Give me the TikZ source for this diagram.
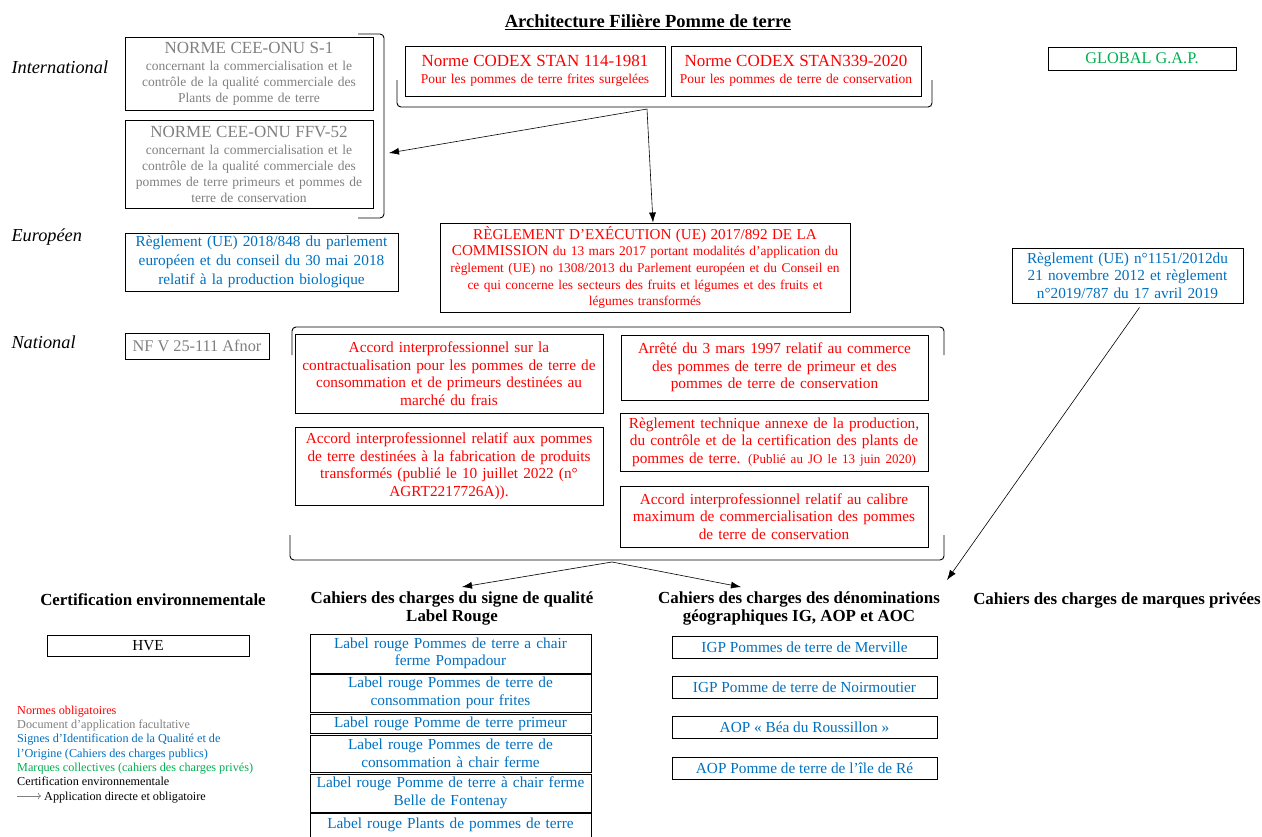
\documentclass[tikz,border=0pt]{standalone}
\usepackage{fontspec}
\setmainfont{Liberation Serif}
\usepackage[dvipsnames]{xcolor}
\usepackage{tikz}
\usetikzlibrary{arrows.meta}

% couleurs de la legende
\definecolor{normred}{RGB}{255,0,0}
\definecolor{docgray}{RGB}{128,128,128}
\definecolor{siqoblue}{RGB}{0,112,192}
\definecolor{marqgreen}{RGB}{0,176,80}

% tailles de police
\newcommand{\policegrand}{\fontsize{17}{19}\selectfont}
\newcommand{\policepetit}{\fontsize{13.5}{16}\selectfont}
\hyphenpenalty=10000

\tikzset{
  box/.style={draw=black, line width=0.9pt, inner sep=0pt, align=center, font=\fontsize{15.3}{17.5}\selectfont},
  smallbox/.style={box, font=\policepetit},
  header/.style={draw=none, align=center, font=\bfseries\fontsize{16.9}{18}\selectfont},
  level/.style={draw=none, anchor=west, font=\itshape\fontsize{18.3}{20}\selectfont},
  arrow/.style={-{Latex[length=10pt,width=7pt]}, line width=0.6pt},
  bracket/.style={draw=black, line width=0.9pt, rounded corners=4pt},
}

\begin{document}
\begin{tikzpicture}[x=1pt, y=-1pt]
% Page: 1262 x 836, y goes down
\clip (0,0) rectangle (1262,836);
\fill[white] (0,0) rectangle (1262,836);

% Title and levels
\node[draw=none, font=\bfseries\fontsize{18.5}{20}\selectfont] (titre) at (648,22) {\underline{Architecture Filière Pomme de terre}};
\node[level] (intl) at (8,67) {International};
\node[level] (euro) at (8,237) {Européen};
\node[level] (nat) at (8,342) {National};

% International level
% "smallbox" = text in a smaller size, first line bigger
\node[smallbox, text=docgray, minimum width=248, minimum height=73, text width=246] (cees) at (249,73.5)
  {{\policegrand NORME CEE-ONU S-1}\\[1pt] concernant la commercialisation et le\\ contrôle de la qualité commerciale des\\ Plants de pomme de terre};
\node[smallbox, text=docgray, minimum width=248, minimum height=88, text width=246] (ceeffv) at (249,164)
  {{\policegrand NORME CEE-ONU FFV-52}\\[1pt] concernant la commercialisation et le\\ contrôle de la qualité commerciale des\\ pommes de terre primeurs et pommes de\\ terre de conservation};
\node[smallbox, text=normred, minimum width=260, minimum height=50, text width=258] (codexa) at (535,71)
  {{\policegrand Norme CODEX STAN 114-1981}\\[1pt] Pour les pommes de terre frites surgelées};
\node[smallbox, text=normred, minimum width=250, minimum height=50, text width=248] (codexb) at (796,71)
  {{\policegrand Norme CODEX STAN339-2020}\\[1pt] Pour les pommes de terre de conservation};
\node[box, text=marqgreen, minimum width=188, minimum height=23, font=\fontsize{16.3}{18}\selectfont] (globalgap) at (1142,58.5) {GLOBAL G.A.P.};

% brackets round the CEE and CODEX boxes
\draw[bracket] (358,34) -- (384,34) -- (384,218) -- (358,218);
\coordinate (ceetip) at (389,153);
\draw[bracket] (397,80) -- (397,107) -- (932,107) -- (932,80);
\coordinate (codextip) at (647,109);

% European level
\node[box, text=siqoblue, minimum width=273, minimum height=58, text width=271, font=\fontsize{15.3}{19}\selectfont] (bio) at (261.5,262)
  {Règlement (UE) 2018/848 du parlement\\ européen et du conseil du 30 mai 2018\\ relatif à la production biologique};
\node[box, text=normred, minimum width=410, minimum height=89, text width=408, font=\fontsize{13.4}{16.7}\selectfont] (exec) at (645,267.5)
  {{\fontsize{15.1}{16.7}\selectfont RÈGLEMENT D'EXÉCUTION (UE) 2017/892 DE LA}\\ {\fontsize{15.1}{16.7}\selectfont COMMISSION} du 13 mars 2017 portant modalités d'application du\\ règlement (UE) no 1308/2013 du Parlement européen et du Conseil en\\ ce qui concerne les secteurs des fruits et légumes et des fruits et\\ légumes transformés};
\node[box, text=siqoblue, minimum width=231, minimum height=55, text width=229] (reg2012) at (1127.5,275.5)
  {Règlement (UE) n°1151/2012du\\ 21 novembre 2012 et règlement\\ n°2019/787 du 17 avril 2019};

% National level
\node[box, text=docgray, minimum width=144, minimum height=26, font=\fontsize{16.3}{18}\selectfont] (afnor) at (197,346) {NF V 25-111 Afnor};
\node[box, text=normred, minimum width=308, minimum height=79, text width=306] (accfrais) at (449,373.5)
  {Accord interprofessionnel sur la\\ contractualisation pour les pommes de terre de\\ consommation et de primeurs destinées au\\ marché du frais};
\node[box, text=normred, minimum width=307, minimum height=65, text width=305] (arrete) at (774.5,367.5)
  {Arrêté du 3 mars 1997 relatif au commerce\\ des pommes de terre de primeur et des\\ pommes de terre de conservation};
\node[box, text=normred, minimum width=308, minimum height=78, text width=306] (acctransf) at (449,466)
  {Accord interprofessionnel relatif aux pommes\\ de terre destinées à la fabrication de produits\\ transformés (publié le 10 juillet 2022 (n°\\ AGRT2217726A)).};
\node[box, text=normred, minimum width=308, minimum height=58, text width=306] (regtech) at (774,442)
  {Règlement technique annexe de la production,\\ du contrôle et de la certification des plants de\\ pommes de terre. {\fontsize{13}{17.5}\selectfont(Publié au JO le 13 juin 2020)}};
\node[box, text=normred, minimum width=308, minimum height=61, text width=306] (calibre) at (774,516.5)
  {Accord interprofessionnel relatif au calibre\\ maximum de commercialisation des pommes\\ de terre de conservation};

% brackets round the national boxes
\draw[bracket] (292,355) -- (292,327) -- (944,327) -- (944,355);
\draw[bracket] (290,535) -- (290,560) -- (944,560) -- (944,535);
\coordinate (nattip) at (612,562);

% Headers of the specifications
\node[header] (hcert) at (153,600) {Certification environnementale};
\node[header] (hlr) at (452,608) {Cahiers des charges du signe de qualité\\Label Rouge};
\node[header] (hig) at (799,608) {Cahiers des charges des dénominations\\géographiques IG, AOP et AOC};
\node[header] (hpriv) at (1117,600) {Cahiers des charges de marques privées};

% HVE, Label Rouge and IG boxes
\node[box, minimum width=202, minimum height=21] (hve) at (148,645.5) {HVE};
\node[box, text=siqoblue, minimum width=281, minimum height=39, text width=279] (lr1) at (450.5,653.5) {Label rouge Pommes de terre a chair\\ ferme Pompadour};
\node[box, text=siqoblue, minimum width=281, minimum height=38, text width=279] (lr2) at (450.5,693) {Label rouge Pommes de terre de\\ consommation pour frites};
\node[box, text=siqoblue, minimum width=281, minimum height=19, text width=279] (lr3) at (450.5,723.5) {Label rouge Pomme de terre primeur};
\node[box, text=siqoblue, minimum width=281, minimum height=37, text width=279] (lr4) at (450.5,753.5) {Label rouge Pommes de terre de\\ consommation à chair ferme};
\node[box, text=siqoblue, minimum width=281, minimum height=38, text width=279] (lr5) at (450.5,793) {Label rouge Pomme de terre à chair ferme\\ Belle de Fontenay};
\node[box, text=siqoblue, minimum width=281, minimum height=37, text width=279, text depth=16pt] (lr6) at (450.5,831.5) {Label rouge Plants de pommes de terre};
\node[box, text=siqoblue, minimum width=265, minimum height=22] (ig1) at (804.5,647) {IGP Pommes de terre de Merville};
\node[box, text=siqoblue, minimum width=265, minimum height=22] (ig2) at (804.5,687) {IGP Pomme de terre de Noirmoutier};
\node[box, text=siqoblue, minimum width=265, minimum height=22] (ig3) at (804.5,727) {AOP « Béa du Roussillon »};
\node[box, text=siqoblue, minimum width=265, minimum height=22] (ig4) at (804.5,768) {AOP Pomme de terre de l’île de Ré};

% Arrows: direct and mandatory application
\coordinate (lrtip) at (462,587);
\coordinate (igtip) at (741,587);
\coordinate (privtip) at (947,580);
\draw[arrow] (codextip) -- (ceetip);
\draw[arrow] (codextip) -- ([xshift=8pt]exec.north);
\draw[arrow] (nattip) -- (lrtip);
\draw[arrow] (nattip) -- (igtip);
\draw[arrow] ([xshift=12pt, yshift=-4pt]reg2012.south) -- (privtip);

% Legend
\node[draw=none, anchor=base west, align=left, inner sep=0pt, font=\fontsize{12.2}{14.3}\selectfont] (legende) at (17,800)
  {\textcolor{normred}{Normes obligatoires}\\
   \textcolor{docgray}{Document d’application facultative}\\
   \textcolor{siqoblue}{Signes d’Identification de la Qualité et de}\\
   \textcolor{siqoblue}{l’Origine (Cahiers des charges publics)}\\
   \textcolor{marqgreen}{Marques collectives (cahiers des charges privés)}\\
   Certification environnementale\\
   \hspace{27pt}Application directe et obligatoire};
\coordinate (legstart) at (17,796);
\coordinate (legend) at (41,796);
\draw[->, docgray, line width=0.7pt] (legstart) -- (legend);
\end{tikzpicture}
\end{document}
